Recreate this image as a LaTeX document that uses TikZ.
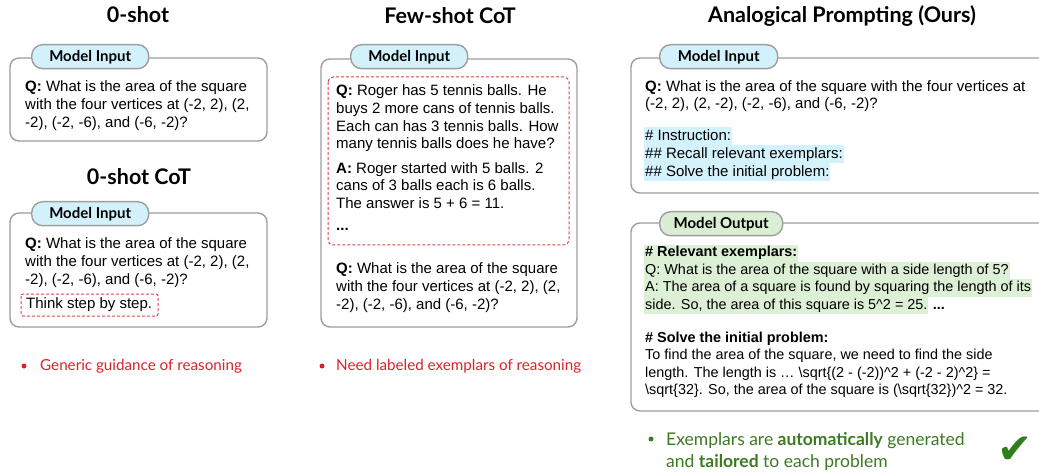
\documentclass[tikz,border=0pt]{standalone}
\usepackage{fontspec}
\setmainfont{Liberation Sans}
\newfontfamily\headfont{Lato}
\newfontfamily\symfont{DejaVu Sans}
\definecolor{boxgray}{HTML}{9E9E9E}
\definecolor{pillblue}{HTML}{D3F1FB}
\definecolor{pillgreen}{HTML}{D9EED3}
\definecolor{hlblue}{HTML}{D3F2FB}
\definecolor{hlgreen}{HTML}{DCF0D5}
\definecolor{redtxt}{HTML}{D9232B}
\definecolor{reddash}{HTML}{E0424A}
\definecolor{greentxt}{HTML}{3C7A23}
\definecolor{checkgreen}{HTML}{2F7D1C}
\begin{document}
\begin{tikzpicture}[x=1pt,y=-1pt,
  frame/.style={draw=boxgray, line width=1.4pt, rounded corners=9pt, fill=white},
  pill/.style={draw=boxgray, line width=1.4pt, rounded corners=11pt, fill=pillblue,
    font=\headfont\bfseries\fontsize{15}{18}\selectfont},
  dashbox/.style={draw=reddash, line width=1pt, dashed, dash pattern=on 3pt off 2pt, rounded corners=5pt},
  title/.style={font=\headfont\bfseries\fontsize{21.5}{24}\selectfont, anchor=base, inner sep=0pt},
  body/.style={font=\fontsize{15}{18}\selectfont, anchor=base west, inner sep=0pt},
  small/.style={body, font=\fontsize{14.4}{17}\selectfont},
  hlb/.style={body, fill=hlblue, inner xsep=1pt, text height=13.5pt, text depth=4.5pt},
  hlg/.style={small, fill=hlgreen, inner xsep=1pt, text height=12.4pt, text depth=5pt},
  bullet/.style={font=\headfont\fontsize{15.2}{20}\selectfont, anchor=base west, inner sep=0pt},
  gbullet/.style={font=\headfont\fontsize{17.5}{22}\selectfont, anchor=base west, inner sep=0pt},
  dot/.style={circle, inner sep=0pt, minimum size=5pt}
]
\clip (0,0) rectangle (1039,473);
\fill[white] (0,0) rectangle (1039,473);

% ---------- titles ----------
\node[title] (t1) at (138,23) {0-shot};
\node[title] (t2) at (139,185) {0-shot CoT};
\node[title] (t3) at (450,24) {Few-shot CoT};
\node[title] (t4) at (842,23) {Analogical Prompting (Ours)};

% ---------- 0-shot ----------
\path[frame] (10,58) rectangle (267,141);
\node[pill, anchor=north west, minimum width=117pt, minimum height=24pt, inner sep=0pt] (p1) at (31,44) {Model Input};
\node[body] (a1) at (25,92) {\textbf{Q:} What is the area of the square};
\node[body] (a2) at (25,110) {with the four vertices at (-2, 2), (2,};
\node[body] (a3) at (25,128) {-2), (-2, -6), and (-6, -2)?};

% ---------- 0-shot CoT ----------
\path[frame] (10,213) rectangle (267,327);
\node[pill, anchor=north west, minimum width=117pt, minimum height=24pt, inner sep=0pt] (p2) at (31,201) {Model Input};
\node[body] (c1) at (25,248) {\textbf{Q:} What is the area of the square};
\node[body] (c2) at (25,266) {with the four vertices at (-2, 2), (2,};
\node[body] (c3) at (25,284) {-2), (-2, -6), and (-6, -2)?};
\path[dashbox, rounded corners=2pt] (21,294) rectangle (158,316);
\node[body] (c4) at (26,308) {Think step by step.};

\node[dot, fill=redtxt] (d1) at (24,366) {};
\node[bullet, text=redtxt] (g1) at (40,370.5) {Generic guidance of reasoning};

% ---------- Few-shot CoT ----------
\path[frame] (321,59) rectangle (577,327);
\node[pill, anchor=north west, minimum width=117pt, minimum height=24pt, inner sep=0pt] (p3) at (350,44) {Model Input};
\path[dashbox] (328,77) rectangle (569,245);
\node[body] (f1) at (336,96) {\textbf{Q:} Roger has 5 tennis balls. He};
\node[body] (f2) at (336,113.7) {buys 2 more cans of tennis balls.};
\node[body] (f3) at (336,131.3) {Each can has 3 tennis balls. How};
\node[body] (f4) at (336,149) {many tennis balls does he have?};
\node[body] (f5) at (336,173.3) {\textbf{A:} Roger started with 5 balls. 2};
\node[body] (f6) at (336,191) {cans of 3 balls each is 6 balls.};
\node[body] (f7) at (336,209) {The answer is 5 + 6 = 11.};
\node[body] (f8) at (336,231) {\textbf{...}};
\node[body] (f9) at (336,273) {\textbf{Q:} What is the area of the square};
\node[body] (f10) at (336,291) {with the four vertices at (-2, 2), (2,};
\node[body] (f11) at (336,309) {-2), (-2, -6), and (-6, -2)?};

\node[dot, fill=redtxt] (d2) at (322,366) {};
\node[bullet, text=redtxt] (g2) at (336,370.5) {Need labeled exemplars of reasoning};

% ---------- Analogical prompting: input ----------
\path[frame] (631,58) rectangle (1070,193);
\node[pill, anchor=north west, minimum width=118pt, minimum height=24pt, inner sep=0pt] (p4) at (659,44) {Model Input};
\node[body] (r1) at (645,91.5) {\textbf{Q:} What is the area of the square with the four vertices at};
\node[body] (r2) at (645,109) {(-2, 2), (2, -2), (-2, -6), and (-6, -2)?};
\node[hlb] (r3) at (644,141) {\# Instruction:};
\node[hlb] (r4) at (644,159) {\#\# Recall relevant exemplars:};
\node[hlb] (r5) at (644,177) {\#\# Solve the initial problem:};

% ---------- Analogical prompting: output ----------
\path[frame] (631,223) rectangle (1070,411);
\node[pill, fill=pillgreen, anchor=north west, minimum width=123pt, minimum height=24pt, inner sep=0pt] (p5) at (659,211) {Model Output};
\node[hlg] (o1) at (644,257) {\textbf{\# Relevant exemplars:}};
\node[hlg] (o2) at (644,274.4) {Q: What is the area of the square with a side length of 5?};
\node[hlg] (o3) at (644,291.8) {A: The area of a square is found by squaring the length of its};
\node[hlg] (o4) at (644,309.2) {side. So, the area of this square is 5\textasciicircum 2 = 25. };
\node[small, anchor=base west] (o5) at ([xshift=4pt]o4.base east) {\textbf{...}};
\node[small] (o6) at (645,342) {\textbf{\# Solve the initial problem:}};
\node[small] (o7) at (645,359.5) {To find the area of the square, we need to find the side};
\node[small] (o8) at (645,377) {length. The length is … \textbackslash sqrt\{(2 - (-2))\textasciicircum 2 + (-2 - 2)\textasciicircum 2\} =};
\node[small] (o9) at (645,394.5) {\textbackslash sqrt\{32\}. So, the area of the square is (\textbackslash sqrt\{32\})\textasciicircum 2 = 32.};

\node[dot, fill=greentxt] (d3) at (651,439) {};
\node[gbullet, text=greentxt] (g3) at (666,445) {Exemplars are \textbf{automatically} generated};
\node[gbullet, text=greentxt] (g4) at (666,467) {and \textbf{tailored} to each problem};
\node[inner sep=0pt, anchor=base, text=checkgreen, font=\symfont\fontsize{42}{42}\selectfont] (ck) at (1015,463) {✔};
\end{tikzpicture}
\end{document}
